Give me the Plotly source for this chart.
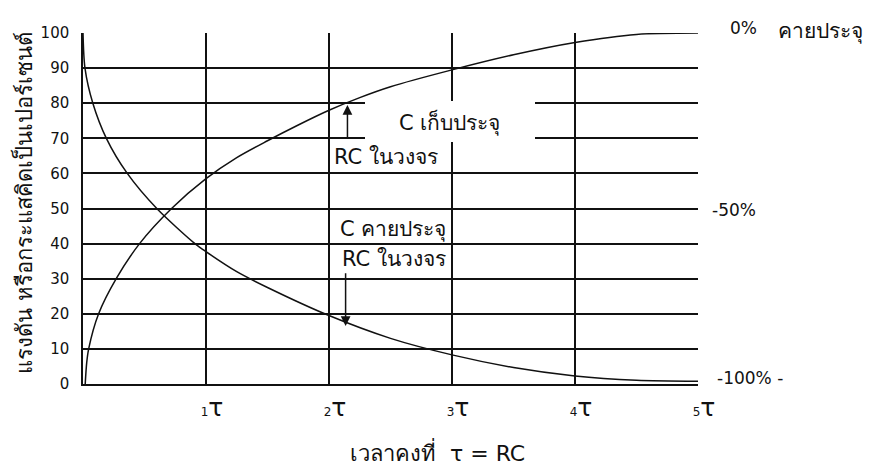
import plotly.graph_objects as go

# ---------------- data ----------------
charge_t = [0.018, 0.03, 0.046, 0.127, 0.27, 0.46, 0.72, 1.0, 1.25, 1.5, 1.75, 2.0, 2.25, 2.5, 3.0, 3.5, 4.0, 4.5, 5.0]
charge_v = [0, 6, 10, 20, 30, 40, 50, 58.5, 64.5, 69.3, 73.8, 78.0, 81.6, 84.7, 89.5, 93.8, 97.3, 99.6, 100]

discharge_t = [0.0, 0.016, 0.08, 0.19, 0.36, 0.6, 0.91, 1.0, 1.25, 1.5, 2.0, 2.5, 3.0, 3.5, 4.0, 4.5, 5.0]
discharge_v = [100, 90, 80, 70, 60, 50, 40, 37.7, 32.0, 27.5, 19.5, 13.0, 8.3, 4.7, 2.3, 1.1, 0.8]

y_ticks = [0, 10, 20, 30, 40, 50, 60, 70, 80, 90, 100]
x_ticks = [1, 2, 3, 4, 5]
x_tick_digits = ["1", "2", "3", "4", "5"]
right_vals = [100, 50, 0]
right_labels = ["0%", "-50%", "-100% -"]

y_title = "แรงดัน หรือกระแสคิดเป็นเปอร์เซนต์"
x_title = "เวลาคงที่  τ = RC"
charge_label = "C เก็บประจุ"
discharge_label = "C คายประจุ"
rc_label = "RC ในวงจร"
right_top_label = "คายประจุ"

# ---------------- layout geometry ----------------
W, H = 869, 471
ML, MR, MT, MB = 83, 171, 33, 87
X0, X1 = ML, W - MR
Y1, Y0 = MT, H - MB

def px(x):
    return (x - X0) / (X1 - X0)

def py(y):
    return (Y0 - y) / (Y0 - Y1)

FONT = "Tahoma, 'DejaVu Sans', sans-serif"
LINE = "#111111"

fig = go.Figure()
fig.add_trace(go.Scatter(x=charge_t, y=charge_v, mode="lines",
                         line=dict(color=LINE, width=1.5, shape="spline", smoothing=0.8),
                         hoverinfo="skip", showlegend=False))
fig.add_trace(go.Scatter(x=discharge_t, y=discharge_v, mode="lines",
                         line=dict(color=LINE, width=1.5, shape="spline", smoothing=0.8),
                         hoverinfo="skip", showlegend=False))

tick_text = [f"<span style='font-size:12px'>{d}</span>τ" for d in x_tick_digits]

fig.update_layout(
    width=W, height=H, autosize=False,
    margin=dict(l=ML, r=MR, t=MT, b=MB, pad=0),
    paper_bgcolor="white", plot_bgcolor="white",
    font=dict(family=FONT, color="#111111", size=14),
    xaxis=dict(range=[0, 5], tickvals=x_ticks, ticktext=tick_text,
               showgrid=True, gridcolor=LINE, gridwidth=1.5,
               showline=True, linecolor=LINE, linewidth=1.5,
               zeroline=False, ticks="", tickfont=dict(size=25, family=FONT),
               ticklabelshift=6, ticklabelstandoff=0, fixedrange=True),
    yaxis=dict(range=[0, 100], tickvals=y_ticks,
               showgrid=True, gridcolor=LINE, gridwidth=1.5,
               showline=True, linecolor=LINE, linewidth=1.5,
               zeroline=False, ticks="", tickfont=dict(size=15, family=FONT),
               ticklabelstandoff=9, fixedrange=True),
)

# white box behind "C เก็บประจุ" (breaks the grid lines); curve passes above its top edge
fig.add_shape(type="rect", xref="paper", yref="paper",
              x0=px(365), x1=px(535), y0=py(142), y1=py(101),
              fillcolor="white", line=dict(width=0), layer="above")

LBL = 21
ann = []
# in-plot labels
ann.append(dict(text=charge_label, x=px(449), y=py(122), xref="paper", yref="paper",
                showarrow=False, font=dict(size=LBL, family=FONT), xanchor="center", yanchor="middle"))
ann.append(dict(text=rc_label, x=px(386), y=py(157), xref="paper", yref="paper",
                showarrow=False, font=dict(size=LBL, family=FONT), xanchor="center", yanchor="middle"))
ann.append(dict(text=discharge_label, x=px(393), y=py(229), xref="paper", yref="paper",
                showarrow=False, font=dict(size=LBL, family=FONT), xanchor="center", yanchor="middle"))
ann.append(dict(text=rc_label, x=px(394), y=py(259), xref="paper", yref="paper",
                showarrow=False, font=dict(size=LBL, family=FONT), xanchor="center", yanchor="middle"))
# arrows
ann.append(dict(text="", x=2.15, y=79.5, ax=2.15, ay=69.5, xref="x", yref="y", axref="x", ayref="y",
                showarrow=True, arrowhead=2, arrowsize=1.3, arrowwidth=1.5, arrowcolor=LINE))
ann.append(dict(text="", x=2.135, y=16.5, ax=2.135, ay=32.0, xref="x", yref="y", axref="x", ayref="y",
                showarrow=True, arrowhead=2, arrowsize=1.3, arrowwidth=1.5, arrowcolor=LINE))
# right-hand labels
right_x = [728, 710, 715]
right_shift = [5, -1, 6]
for v, lab, rx, sh in zip(right_vals, right_labels, right_x, right_shift):
    ann.append(dict(text=lab, x=px(rx), y=v, xref="paper", yref="y", showarrow=False,
                    xanchor="left", yanchor="middle", font=dict(size=17, family=FONT), yshift=sh))
ann.append(dict(text=right_top_label, x=px(776), y=py(31), xref="paper", yref="paper", showarrow=False,
                xanchor="left", yanchor="middle", font=dict(size=21, family=FONT)))
# axis titles
ann.append(dict(text=y_title, x=px(23), y=py(203), xref="paper", yref="paper", showarrow=False,
                textangle=-90, xanchor="center", yanchor="middle", font=dict(size=22, family=FONT)))
ann.append(dict(text=x_title, x=px(437), y=py(452), xref="paper", yref="paper", showarrow=False,
                xanchor="center", yanchor="middle", font=dict(size=22, family=FONT)))
fig.update_layout(annotations=ann)

fig.write_html("out.html", config={"displayModeBar": False},
               post_script="document.body.style.margin='0';document.body.style.overflow='hidden';")
